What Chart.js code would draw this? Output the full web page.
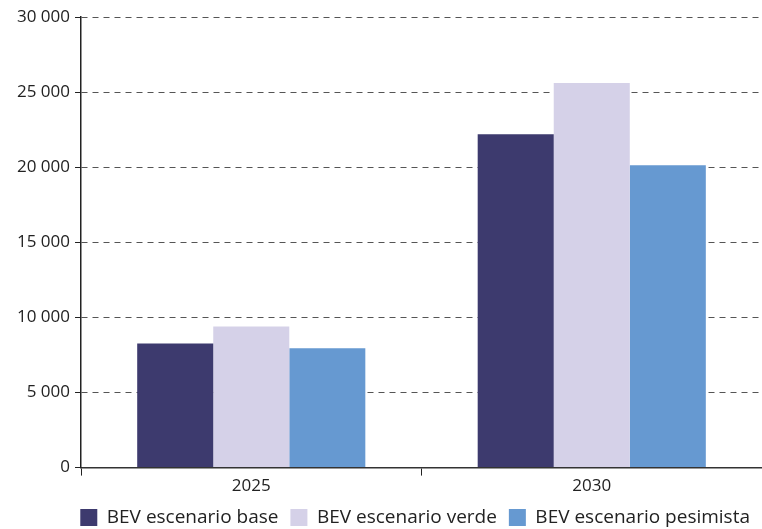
<!DOCTYPE html>
<html>
<head>
<meta charset="utf-8">
<script src="https://cdn.jsdelivr.net/npm/chart.js@4/dist/chart.umd.min.js"></script>
<style>
  html, body { margin: 0; padding: 0; background: #fff; }
  #wrap { width: 762px; height: 529px; }
</style>
</head>
<body>
<div id="wrap"><canvas id="myChart"></canvas></div>
<script>
const years = ['2025', '2030']
const bevBase = [8270, 22200]
const bevVerde = [9400, 25600]
const bevPesimista = [7950, 20130]
const yTicks = [0, 5000, 10000, 15000, 20000, 25000, 30000]

const fontFamily = '"Open Sans", "DejaVu Sans", sans-serif'

// thousands with a space: 30 000
const fmt = v => String(v).replace(/\B(?=(\d{3})+(?!\d))/g, ' ')

const ctx = document.getElementById('myChart')
new Chart(ctx, {
  type: 'bar',
  data: {
    labels: years,
    datasets: [
      { label: 'BEV escenario base', data: bevBase, backgroundColor: '#3d3a6e' },
      { label: 'BEV escenario verde', data: bevVerde, backgroundColor: '#d5d1e8' },
      { label: 'BEV escenario pesimista', data: bevPesimista, backgroundColor: '#6699d1' }
    ]
  },
  options: {
    responsive: true,
    maintainAspectRatio: false,
    animation: false,
    layout: { padding: { top: 17, right: 0, left: 12, bottom: -8 } },
    datasets: {
      bar: { categoryPercentage: 0.67, barPercentage: 1.0, borderWidth: 0 }
    },
    scales: {
      x: {
        offset: true,
        grid: { display: true, drawOnChartArea: false, tickLength: 8, tickColor: '#222', offset: true },
        border: { display: true, color: '#333', width: 1.5 },
        ticks: { color: '#222', font: { family: fontFamily, size: 17 }, padding: 0 }
      },
      y: {
        min: 0,
        max: 30000,
        afterBuildTicks: axis => { axis.ticks = yTicks.map(v => ({ value: v })) },
        grid: { color: '#555', lineWidth: 1, tickLength: 6, tickColor: '#222' },
        border: { display: true, color: '#222', width: 1.5, dash: [6, 5] },
        ticks: {
          color: '#222',
          font: { family: fontFamily, size: 17 },
          padding: 5,
          callback: v => fmt(v)
        }
      }
    },
    plugins: {
      legend: {
        position: 'bottom',
        align: 'end',
        labels: {
          boxWidth: 17,
          boxHeight: 17,
          padding: 12,
          color: '#222',
          font: { family: fontFamily, size: 19 }
        }
      },
      tooltip: { enabled: false }
    }
  }
})
</script>
</body>
</html>
